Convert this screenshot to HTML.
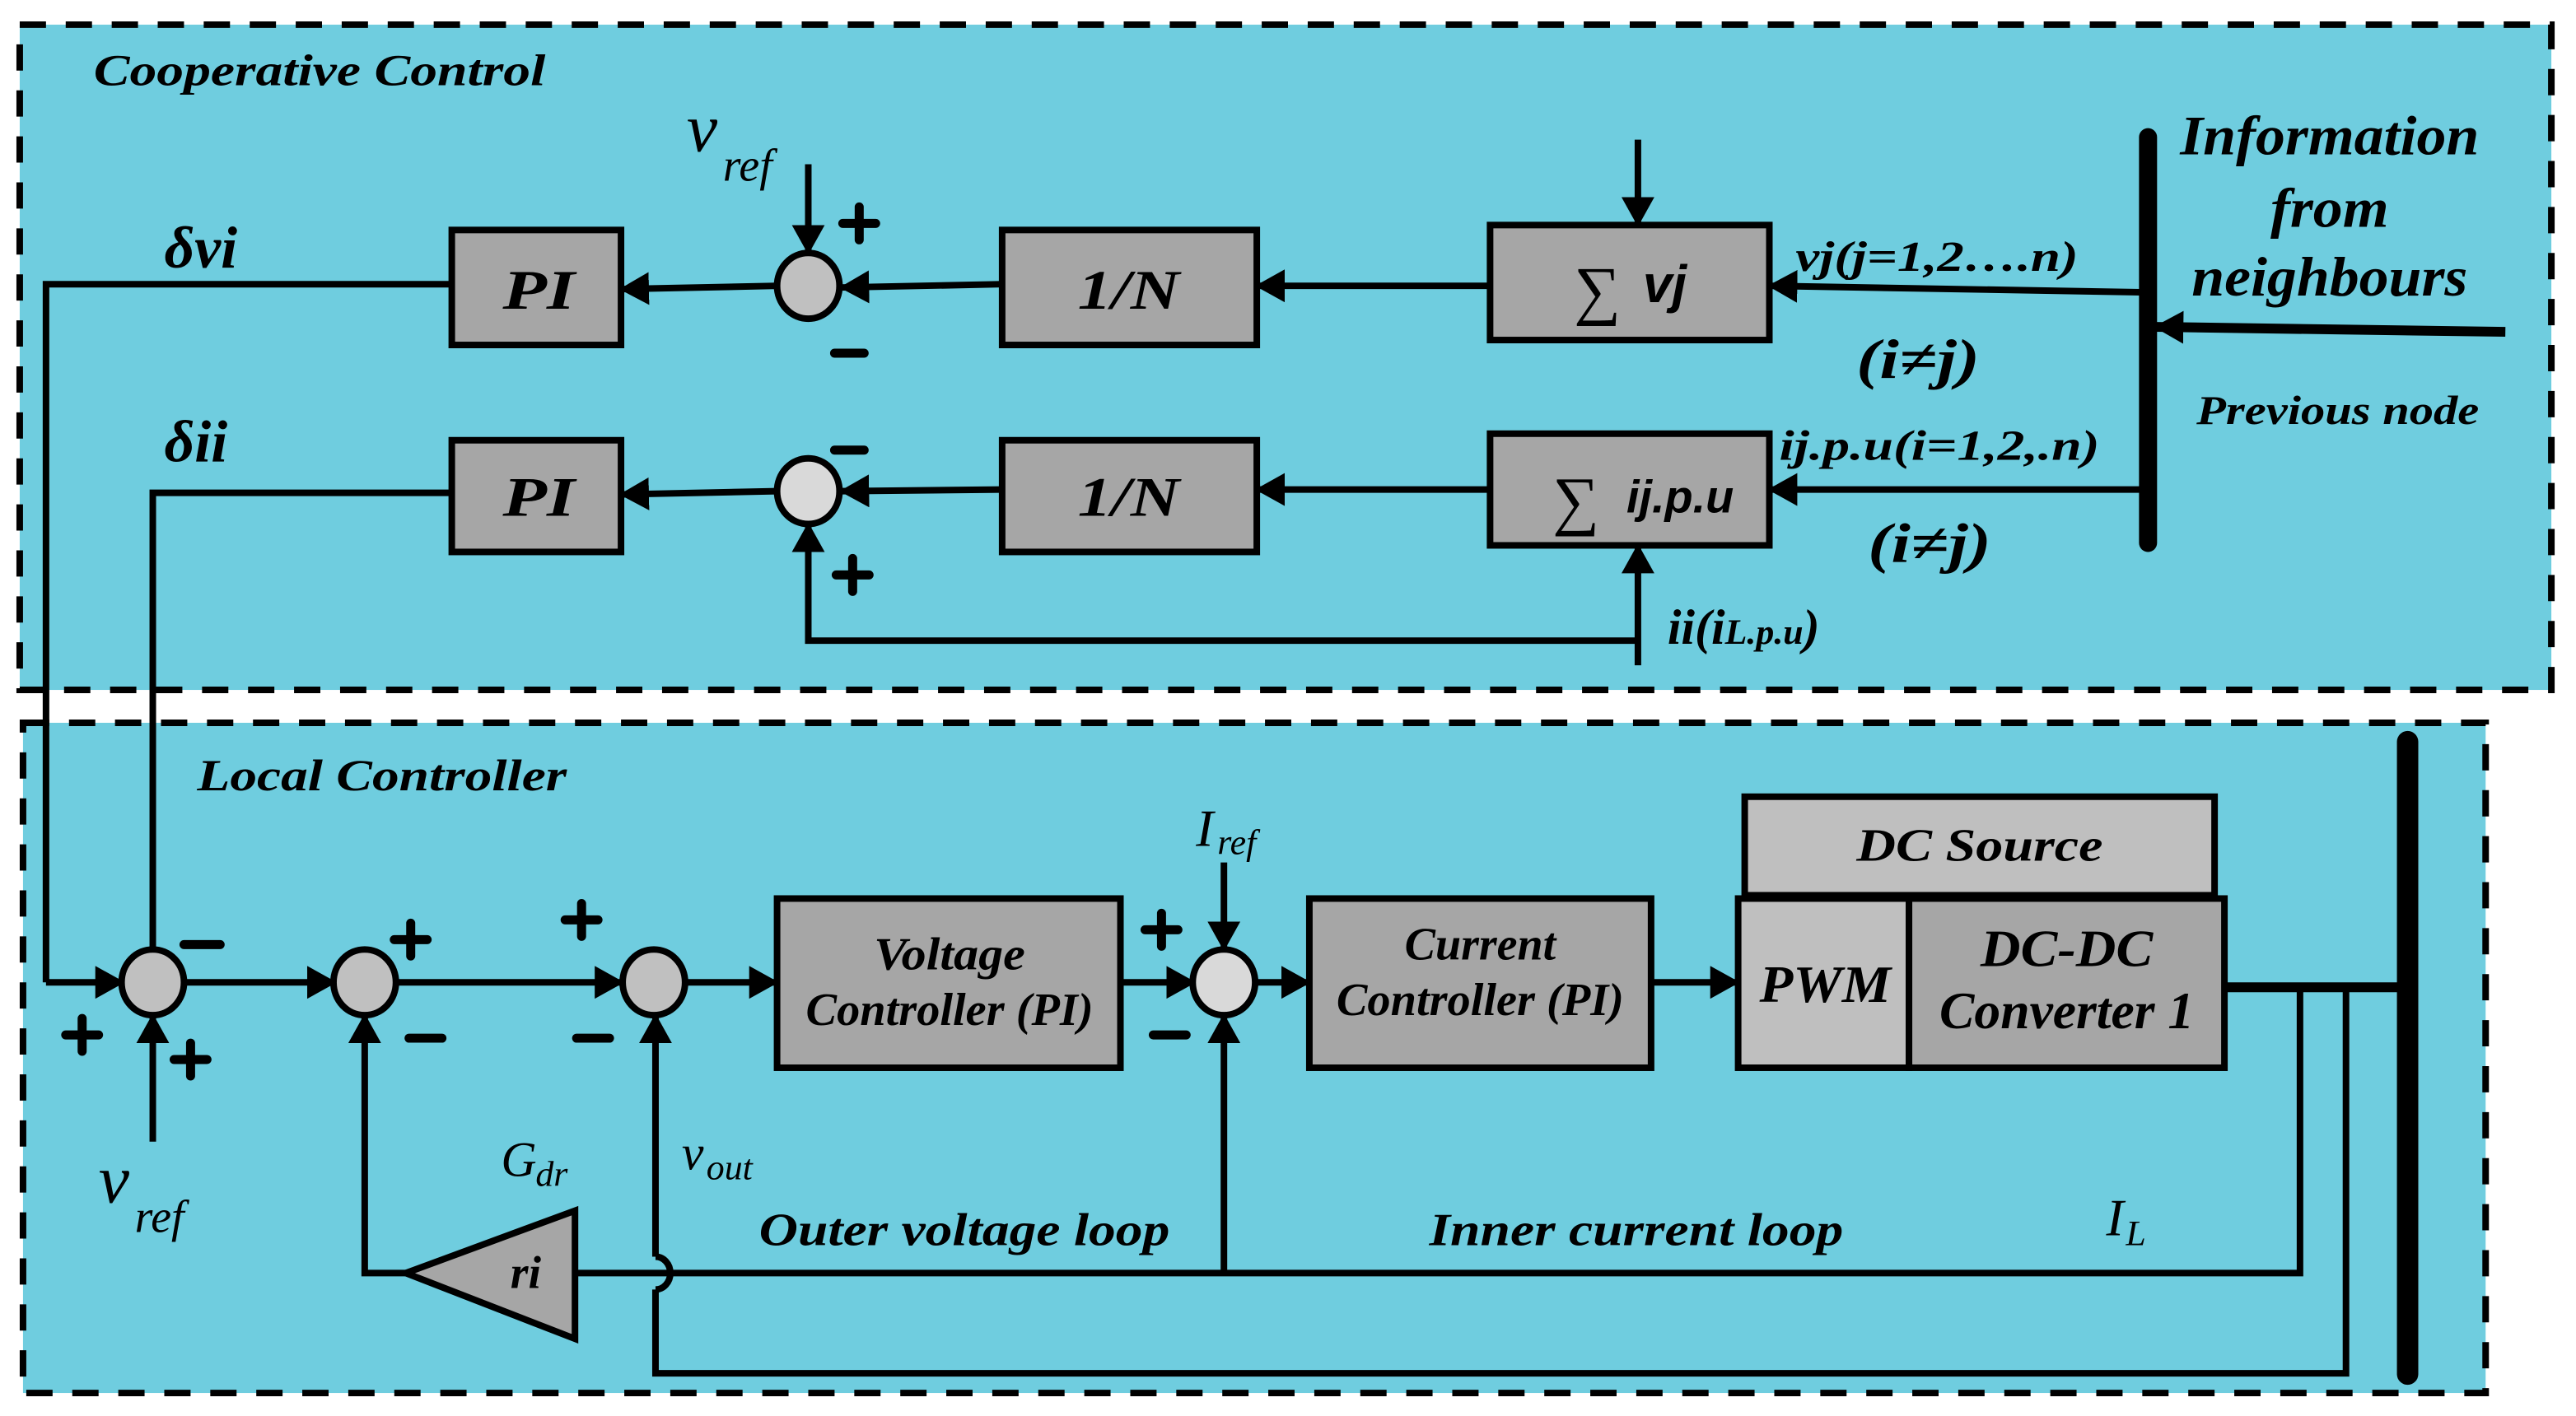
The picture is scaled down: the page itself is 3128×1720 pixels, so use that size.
<!DOCTYPE html>
<html><head><meta charset="utf-8"><style>
html,body{margin:0;padding:0;background:#fff;}
svg{display:block;}
text{font-family:"Liberation Serif",serif;font-style:italic;font-weight:bold;fill:#000;}
text.n{font-weight:normal;}
.s{font-family:"Liberation Sans",sans-serif;}
</style></head><body>
<svg width="3128" height="1720" viewBox="0 0 1568 862" preserveAspectRatio="none" xmlns="http://www.w3.org/2000/svg">
<defs>
<marker id="a" markerUnits="userSpaceOnUse" markerWidth="18" markerHeight="20" refX="17" refY="10" orient="auto">
<path d="M0,0 L18,10 L0,20 Z" fill="#000"/></marker>
</defs>
<rect x="0" y="0" width="1568" height="862" fill="#fff"/>
<rect x="12" y="15" width="1541" height="405" fill="#6FCDDF" stroke="#000" stroke-width="4" stroke-dasharray="16,12"/>
<rect x="14" y="440" width="1499" height="408" fill="#6FCDDF" stroke="#000" stroke-width="4" stroke-dasharray="16,12"/>
<text x="57" y="52" font-size="27" textLength="275" lengthAdjust="spacingAndGlyphs">Cooperative Control</text>
<text x="120" y="481" font-size="27" textLength="225" lengthAdjust="spacingAndGlyphs">Local Controller</text>

<g stroke="#000" stroke-width="4" fill="none">
<polyline points="28,598 28,173 275,173"/>
<line x1="473" y1="174" x2="378" y2="176" marker-end="url(#a)"/>
<line x1="492" y1="100" x2="492" y2="154" marker-end="url(#a)"/>
<line x1="610" y1="173" x2="512" y2="175" marker-end="url(#a)"/>
<line x1="907" y1="174" x2="765" y2="174" marker-end="url(#a)"/>
<line x1="997" y1="85" x2="997" y2="137" marker-end="url(#a)"/>
<line x1="1307" y1="178" x2="1077" y2="174" marker-end="url(#a)"/>
<line x1="1525" y1="202" x2="1312" y2="199" stroke-width="6" marker-end="url(#a)"/>
<polyline points="93,578 93,300 275,300"/>
<line x1="473" y1="299" x2="378" y2="301" marker-end="url(#a)"/>
<line x1="610" y1="298" x2="512" y2="299" marker-end="url(#a)"/>
<line x1="907" y1="298" x2="765" y2="298" marker-end="url(#a)"/>
<line x1="1307" y1="298" x2="1077" y2="298" marker-end="url(#a)"/>
<line x1="997" y1="405" x2="997" y2="332" marker-end="url(#a)"/>
<polyline points="997,390 492,390 492,319" marker-end="url(#a)"/>
<line x1="28" y1="598" x2="75" y2="598" marker-end="url(#a)"/>
<line x1="93" y1="695" x2="93" y2="618" marker-end="url(#a)"/>
<line x1="111" y1="598" x2="204" y2="598" marker-end="url(#a)"/>
<line x1="240" y1="598" x2="379" y2="598" marker-end="url(#a)"/>
<line x1="416" y1="598" x2="473" y2="598" marker-end="url(#a)"/>
<line x1="682" y1="598" x2="727" y2="598" marker-end="url(#a)"/>
<line x1="745" y1="525" x2="745" y2="578" marker-end="url(#a)"/>
<line x1="764" y1="598" x2="797" y2="598" marker-end="url(#a)"/>
<line x1="1005" y1="598" x2="1058" y2="598" marker-end="url(#a)"/>
<line x1="1354" y1="601" x2="1460" y2="601" stroke-width="6"/>
<polyline points="1400,601 1400,775 350,775"/>
<line x1="745" y1="775" x2="745" y2="618" marker-end="url(#a)"/>
<polyline points="247,775 222,775 222,618" marker-end="url(#a)"/>
<polyline points="1428,601 1428,836 399,836 399,785"/>
<path d="M399,785 A9,10 0 0 0 399,765"/>
<line x1="399" y1="765" x2="399" y2="618" marker-end="url(#a)"/>
</g>
<rect x="1302" y="78" width="11" height="258" rx="5.5" fill="#000"/>
<rect x="1459" y="445" width="13" height="398" rx="6.5" fill="#000"/>

<g stroke="#000" stroke-width="4">
<rect x="275" y="140" width="103" height="70" fill="#A6A6A6"/>
<rect x="610" y="140" width="155" height="70" fill="#A6A6A6"/>
<rect x="907" y="137" width="170" height="70" fill="#A6A6A6"/>
<rect x="275" y="268" width="103" height="68" fill="#A6A6A6"/>
<rect x="610" y="268" width="155" height="68" fill="#A6A6A6"/>
<rect x="907" y="264" width="170" height="68" fill="#A6A6A6"/>
<rect x="473" y="547" width="209" height="103" fill="#A6A6A6"/>
<rect x="797" y="547" width="208" height="103" fill="#A6A6A6"/>
<rect x="1062" y="485" width="286" height="60" fill="#BFBFBF"/>
<rect x="1058" y="547" width="104" height="103" fill="#BFBFBF"/>
<rect x="1162" y="547" width="192" height="103" fill="#A6A6A6"/>
<polygon points="350,737 350,815 247,775" fill="#A6A6A6"/>
<ellipse cx="492" cy="174" rx="19" ry="20" fill="#C0C0C0"/>
<ellipse cx="492" cy="299" rx="19" ry="20" fill="#D9D9D9"/>
<ellipse cx="93" cy="598" rx="19" ry="20" fill="#C0C0C0"/>
<ellipse cx="222" cy="598" rx="19" ry="20" fill="#C0C0C0"/>
<ellipse cx="398" cy="598" rx="19" ry="20" fill="#C0C0C0"/>
<ellipse cx="745" cy="598" rx="19" ry="20" fill="#D9D9D9"/>
</g>

<!-- signs -->
<g stroke="#000" stroke-width="5.5" stroke-linecap="round">
<path d="M513,136h20M523,126v20"/>
<path d="M508,215h18"/>
<path d="M508,274h18"/>
<path d="M509,350h20M519,340v20"/>
<path d="M112,575h22"/>
<path d="M40,630h20M50,620v20"/>
<path d="M106,645h20M116,635v20"/>
<path d="M240,572h20M250,562v20"/>
<path d="M249,632h20"/>
<path d="M344,560h20M354,550v20"/>
<path d="M351,632h20"/>
<path d="M697,566h20M707,556v20"/>
<path d="M702,630h20"/>
</g>

<g font-size="34" text-anchor="middle">
<text x="328" y="188" textLength="44" lengthAdjust="spacingAndGlyphs">PI</text>
<text x="328" y="314" textLength="44" lengthAdjust="spacingAndGlyphs">PI</text>
<text x="687" y="188" textLength="62" lengthAdjust="spacingAndGlyphs">1/N</text>
<text x="687" y="314" textLength="62" lengthAdjust="spacingAndGlyphs">1/N</text>
</g>
<text x="958" y="190" font-size="40" class="n" style="font-style:normal">∑</text>
<text x="1000" y="184" font-size="32" class="s">vj</text>
<text x="945" y="318" font-size="40" class="n" style="font-style:normal">∑</text>
<text x="990" y="312" font-size="28" class="s">ij.p.u</text>
<g font-size="28" text-anchor="middle">
<text x="578" y="590" textLength="92" lengthAdjust="spacingAndGlyphs">Voltage</text>
<text x="578" y="624" textLength="175" lengthAdjust="spacingAndGlyphs">Controller (PI)</text>
<text x="901" y="584" textLength="92" lengthAdjust="spacingAndGlyphs">Current</text>
<text x="901" y="618" textLength="175" lengthAdjust="spacingAndGlyphs">Controller (PI)</text>
<text x="1205" y="524" textLength="150" lengthAdjust="spacingAndGlyphs">DC Source</text>
<text x="1111" y="610" font-size="32" textLength="80" lengthAdjust="spacingAndGlyphs">PWM</text>
<text x="1258" y="588" font-size="32" textLength="105" lengthAdjust="spacingAndGlyphs">DC-DC</text>
<text x="1258" y="626" font-size="32" textLength="155" lengthAdjust="spacingAndGlyphs">Converter 1</text>
<text x="320" y="784" font-size="28">ri</text>
</g>

<text x="100" y="163" font-size="36">δvi</text>
<text x="100" y="281" font-size="36">δii</text>
<text x="418" y="92" font-size="42" class="n">v</text>
<text x="440" y="110" font-size="28" class="n">ref</text>
<text x="1093" y="165" font-size="26" textLength="172" lengthAdjust="spacingAndGlyphs">vj(j=1,2….n)</text>
<text x="1130" y="230" font-size="34" textLength="75" lengthAdjust="spacingAndGlyphs">(i≠j)</text>
<text x="1083" y="280" font-size="26" textLength="195" lengthAdjust="spacingAndGlyphs">ij.p.u(i=1,2,.n)</text>
<text x="1137" y="342" font-size="34" textLength="75" lengthAdjust="spacingAndGlyphs">(i≠j)</text>
<text x="1015" y="392" font-size="30">ii(i<tspan font-size="22">L.p.u</tspan>)</text>
<g font-size="34" text-anchor="middle">
<text x="1418" y="94" textLength="182" lengthAdjust="spacingAndGlyphs">Information</text>
<text x="1418" y="138" textLength="72" lengthAdjust="spacingAndGlyphs">from</text>
<text x="1418" y="180" textLength="168" lengthAdjust="spacingAndGlyphs">neighbours</text>
</g>
<text x="1423" y="258" font-size="25" text-anchor="middle" textLength="172" lengthAdjust="spacingAndGlyphs">Previous node</text>
<text x="60" y="732" font-size="42" class="n">v</text>
<text x="82" y="750" font-size="28" class="n">ref</text>
<text x="728" y="515" font-size="32" class="n">I</text>
<text x="741" y="520" font-size="22" class="n">ref</text>
<text x="305" y="716" font-size="30" class="n">G</text>
<text x="326" y="722" font-size="22" class="n">dr</text>
<text x="415" y="712" font-size="30" class="n">v</text>
<text x="430" y="718" font-size="22" class="n">out</text>
<text x="462" y="758" font-size="28" textLength="250" lengthAdjust="spacingAndGlyphs">Outer voltage loop</text>
<text x="870" y="758" font-size="28" textLength="252" lengthAdjust="spacingAndGlyphs">Inner current loop</text>
<text x="1282" y="752" font-size="32" class="n">I</text>
<text x="1294" y="758" font-size="22" class="n">L</text>
</svg>
</body></html>
